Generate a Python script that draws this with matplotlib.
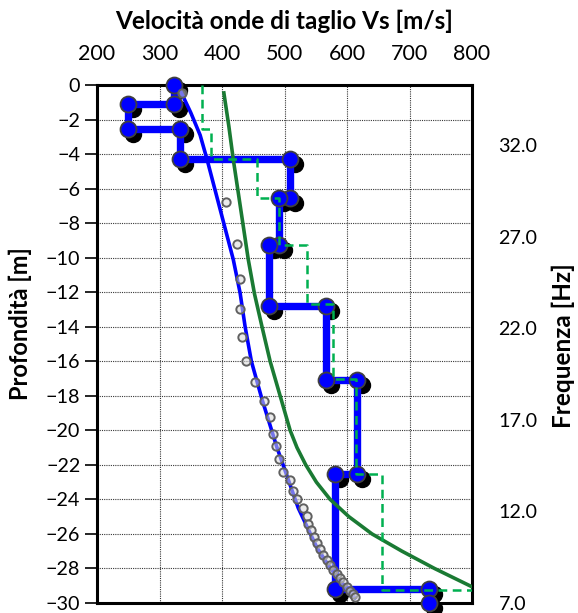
import matplotlib
matplotlib.use("Agg")
import matplotlib.pyplot as plt
import matplotlib.transforms as mtransforms
from matplotlib.ticker import FormatStrFormatter

plt.rcParams['font.family'] = ['Lato', 'DejaVu Sans']

# ---- data ----
# Vs profile (blue step with markers): velocity [m/s], depth [m]
step_vs = [323, 323, 250, 250, 333, 333, 509, 509, 491, 491, 475, 475,
           566, 566, 616, 616, 581, 581, 731, 731]
step_depth = [0, -1.1, -1.1, -2.55, -2.55, -4.3, -4.3, -6.55, -6.55, -9.25,
              -9.25, -12.8, -12.8, -17.1, -17.1, -22.5, -22.5, -29.2, -29.2, -30.0]

# green dashed profile
dash_vs = [368, 368, 383, 383, 456, 456, 491, 491, 536, 536, 577, 577,
           615, 615, 656, 656, 805]
dash_depth = [0, -2.55, -2.55, -4.3, -4.3, -6.55, -6.55, -9.25, -9.25, -12.7,
              -12.7, -17.0, -17.0, -22.5, -22.5, -29.25, -29.25]

# green solid curve
green_vs = [403, 411, 418, 430, 442, 452, 464, 477, 493, 509, 520, 534, 551,
            573, 603, 640, 688, 740, 805]
green_depth = [-0.46, -2.4, -4.3, -7.2, -10.1, -12.1, -14.0, -16.0, -18.0, -20.0,
               -21.0, -22.0, -23.0, -24.0, -25.0, -26.0, -27.0, -28.0, -29.15]

# blue solid curve
blue_vs = [333, 350, 365, 376, 397, 418, 429, 437, 447, 464, 488, 522, 552, 570, 589, 613]
blue_depth = [-0.3, -1.6, -2.9, -4.3, -7.2, -10.1, -12.05, -14.0, -16.0, -18.2,
              -21.0, -24.5, -26.8, -27.8, -28.7, -29.7]

# gray experimental points
pts_vs = [336, 406, 424, 429, 429, 432, 438, 453, 467, 477, 482, 486, 491,
          498, 509, 514, 520, 530, 536, 538, 542, 547, 552, 557, 562, 568,
          573, 578, 584, 589, 594, 600, 605, 610, 613]
pts_depth = [-0.46, -6.8, -9.2, -11.25, -13.0, -14.6, -16.0, -17.2, -18.3, -19.2,
             -20.2, -20.9, -21.65, -22.4, -22.9, -23.5, -24.0, -24.5, -24.96, -25.4,
             -25.8, -26.2, -26.5, -26.9, -27.2, -27.5, -27.8, -28.1, -28.3, -28.55,
             -28.8, -29.1, -29.3, -29.5, -29.65]

x_ticks = [200, 300, 400, 500, 600, 700, 800]
y_ticks = [0, -2, -4, -6, -8, -10, -12, -14, -16, -18, -20, -22, -24, -26, -28, -30]
freq_ticks = [7, 12, 17, 22, 27, 32]

# ---- figure ----
W, H = 578, 613
fig = plt.figure(figsize=(W / 100, H / 100), dpi=100)
L, R, T, B = 97, 472, 85, 603
ax = fig.add_axes([L / W, 1 - B / H, (R - L) / W, (B - T) / H])

ax.set_xlim(200, 800)
ax.set_ylim(-30, 0)
ax.set_xticks(x_ticks)
ax.set_yticks(y_ticks)
ax.xaxis.tick_top()
ax.tick_params(axis='x', length=0, pad=15, labelsize=15.5)
ax.tick_params(axis='y', length=9, width=1.2, pad=3, labelsize=14.2, direction='out')
ax.grid(True, color='#383838', linestyle=(0, (1, 1)), linewidth=0.8)
ax.set_axisbelow(True)
for s in ax.spines.values():
    s.set_linewidth(2.2)
    s.set_color('black')

# shadow transform
shadow = mtransforms.offset_copy(ax.transData, fig=fig, x=5, y=-5, units='dots')

# blue step profile
ax.plot(step_vs, step_depth, linestyle='none', marker='o', markersize=11.5,
        markerfacecolor='black', markeredgecolor='black', transform=shadow, zorder=2,
        clip_on=False)
ax.plot(step_vs, step_depth, color='#0000ff', linewidth=5.3, solid_joinstyle='miter',
        zorder=3, clip_on=False)
ax.plot(step_vs, step_depth, linestyle='none', marker='o', markersize=11.5,
        markerfacecolor='#0000ff', markeredgecolor='#404040', markeredgewidth=1.3,
        zorder=4, clip_on=False)

# blue curve
ax.plot(blue_vs, blue_depth, color='#0000ff', linewidth=2.6, zorder=5,
        solid_joinstyle='round')

# gray points
ax.plot(pts_vs, pts_depth, linestyle='none', marker='o', markersize=6,
        markerfacecolor=(0.85, 0.85, 0.85, 0.55), markeredgecolor='#606060',
        markeredgewidth=1.4, zorder=6)

# green curve
ax.plot(green_vs, green_depth, color='#1a7a33', linewidth=2.6, zorder=7,
        solid_joinstyle='round')

# green dashed
ax.plot(dash_vs, dash_depth, color='#00b050', linewidth=1.8,
        linestyle=(0, (3.5, 2.2)), zorder=8)

# secondary axis
ax2 = ax.twinx()
ax2.set_ylim(7, 35.3)
ax2.set_yticks(freq_ticks)
ax2.yaxis.set_major_formatter(FormatStrFormatter('%.1f'))
ax2.tick_params(axis='y', length=0, pad=19, labelsize=14.2)
for s in ax2.spines.values():
    s.set_visible(False)

# labels
fig.text((L + R) / 2 / W, 1 - 21 / H, 'Velocità onde di taglio Vs [m/s]',
         ha='center', va='center', fontsize=17.5, fontweight='bold')
fig.text(20 / W, 1 - 324 / H, 'Profondità [m]', rotation=90, ha='center',
         va='center', fontsize=17, fontweight='bold')
fig.text(563 / W, 1 - 346 / H, 'Frequenza [Hz]', rotation=90, ha='center',
         va='center', fontsize=17.5, fontweight='bold')

fig.savefig('out.png', dpi=100)
